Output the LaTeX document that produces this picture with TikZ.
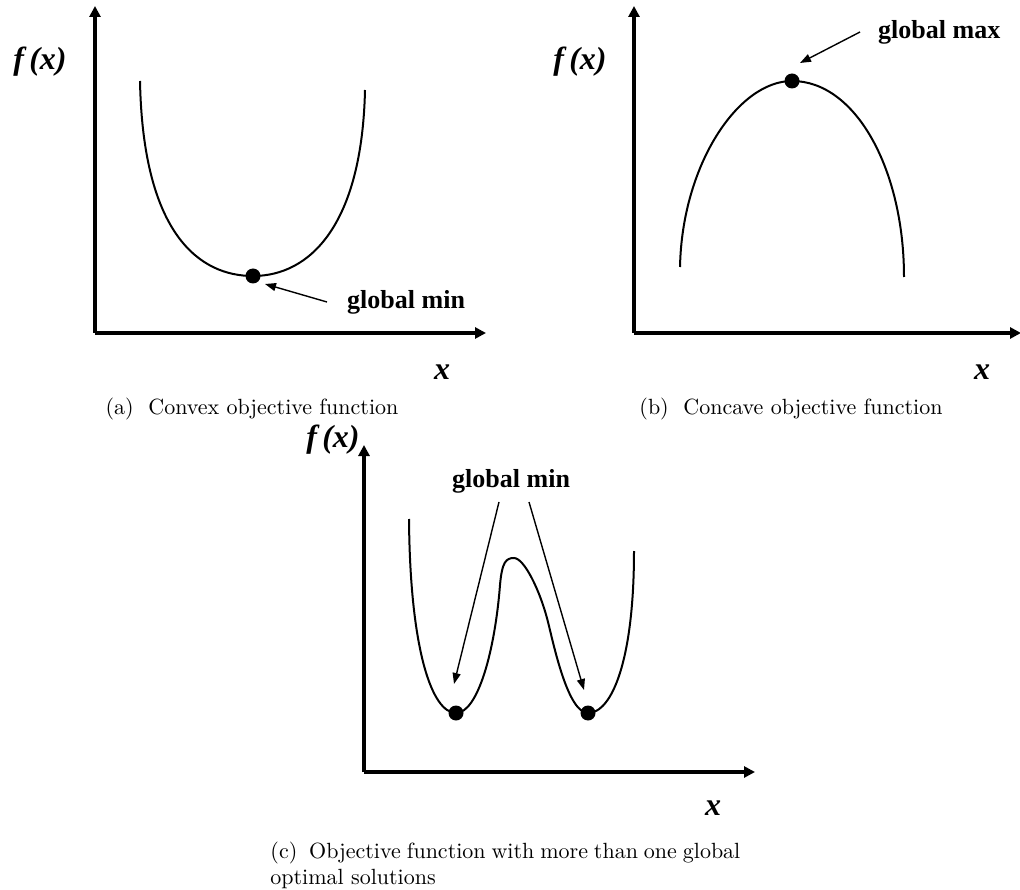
\documentclass[tikz,border=0pt]{standalone}
\usepackage{fontspec}
\newfontfamily\tnr{Liberation Serif}
\usetikzlibrary{arrows.meta}
\begin{document}
\begin{tikzpicture}[x=1pt,y=-1pt,
  axis/.style={line width=3.2pt,-{Triangle[length=11pt,width=11pt]}},
  curve/.style={line width=2pt},
  note/.style={line width=1.4pt,-{Triangle[length=11pt,width=8pt]}},
  dot/.style={circle,fill=black,inner sep=0pt,minimum size=15pt},
  lbl/.style={font=\tnr\bfseries\fontsize{26}{30}\selectfont,inner sep=0pt},
  axlbl/.style={font=\tnr\bfseries\itshape\fontsize{32}{34}\selectfont,inner sep=0pt},
  captext/.style={scale=2.2,inner sep=0pt,font=\fontsize{10}{11.5}\selectfont}]
\useasboundingbox (0,0) rectangle (1020,890);
% ---------- panel (a)
\coordinate (oa) at (95,333);
\coordinate (ya) at (95,6);
\coordinate (xa) at (486,333);
\draw[axis] (oa) -- (ya);
\draw[axis] (oa) -- (xa);
\draw[curve] (140,81) .. controls (143,235) and (200,276) .. (253,276)
  .. controls (310,276) and (362,225) .. (365,90);
\node[dot] (mina) at (253,276) {};
\node[lbl,anchor=base west] (gmina) at (347,309) {global min};
\coordinate (sa) at (327,302);
\coordinate (ea) at (265,284);
\draw[note] (sa) -- (ea);
\node[axlbl] (fa) at (40,62) {f\,(x)};
\node[axlbl] (xla) at (442,372) {x};
\node[captext] (capa) at (252,409) {(a)\ \ Convex objective function};
% ---------- panel (b)
\coordinate (ob) at (634,333);
\coordinate (yb) at (634,6);
\coordinate (xb) at (1021,333);
\draw[axis] (ob) -- (yb);
\draw[axis] (ob) -- (xb);
\draw[curve] (680,267) .. controls (682,165) and (738,81) .. (792,81)
  .. controls (856,81) and (904,170) .. (904,277);
\node[dot] (maxb) at (792,81) {};
\node[lbl,anchor=base west] (gmaxb) at (878,39) {global max};
\coordinate (sb) at (860,32);
\coordinate (eb) at (800,63);
\draw[note] (sb) -- (eb);
\node[axlbl] (fb) at (580,62) {f\,(x)};
\node[axlbl] (xlb) at (982,372) {x};
\node[captext] (capb) at (791,409) {(b)\ \ Concave objective function};
% ---------- panel (c)
\coordinate (oc) at (364,772);
\coordinate (yc) at (364,445);
\coordinate (xc) at (755,772);
\draw[axis] (oc) -- (yc);
\draw[axis] (oc) -- (xc);
\draw[curve] (409,519) .. controls (410,650) and (432,713) .. (456,713)
  .. controls (478,713) and (495,650) .. (500,585)
  .. controls (502,562) and (506,558) .. (514,558)
  .. controls (524,558) and (540,590) .. (548,622)
  .. controls (554,646) and (568,713) .. (588,713)
  .. controls (612,713) and (634,660) .. (634,551);
\node[dot] (minc1) at (456,713) {};
\node[dot] (minc2) at (588,713) {};
\node[lbl,anchor=base west] (gminc) at (452,487) {global min};
\coordinate (sc1) at (499,502);
\coordinate (ec1) at (454,684);
\coordinate (sc2) at (529,502);
\coordinate (ec2) at (584,690);
\draw[note] (sc1) -- (ec1);
\draw[note] (sc2) -- (ec2);
\node[axlbl] (fc) at (333,440) {f\,(x)};
\node[axlbl] (xlc) at (713,808) {x};
\node[captext,anchor=north west,text width=213.6pt,align=justify] (capc) at (270,842)
  {(c)\ \ Objective function with more than one global optimal solutions};
\end{tikzpicture}
\end{document}
